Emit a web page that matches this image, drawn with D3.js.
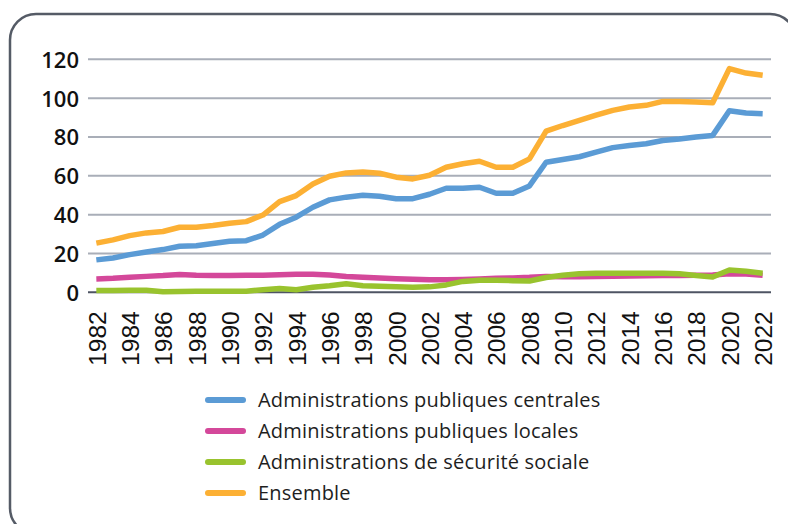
<!DOCTYPE html>
<html>
<head>
<meta charset="utf-8">
<title>Dette par sous-secteur</title>
<script src="https://cdn.jsdelivr.net/npm/d3@7"></script>
<style>
    body { margin: 0; background: #fff; }
    svg { display: block; }
    .grid line { stroke: #a9aeb8; stroke-width: 2px; }
    .ytick text { font: 600 22px "Open Sans", sans-serif; fill: #111; }
    .xtick text { font: 24.5px "Liberation Sans", Arial, sans-serif; fill: #111; }
    .legend text { font: 20px "Open Sans", sans-serif; letter-spacing: 0.2px; fill: #1e1e1e; }
    .serie { fill: none; stroke-width: 5.5px; stroke-linejoin: round; }
</style>
</head>
<body>
<svg width="788" height="524"></svg>
<script>
    const years = d3.range(1982, 2023);
    const yTicks = [0, 20, 40, 60, 80, 100, 120];

    const centrales = [16.7, 17.7, 19.4, 20.8, 22.0, 23.7, 24.0, 25.1, 26.3, 26.6,
        29.5, 35.0, 38.7, 43.8, 47.6, 49.0, 50.0, 49.5, 48.2, 48.2,
        50.5, 53.6, 53.6, 54.1, 51.0, 51.0, 54.8, 67.0, 68.4, 69.8,
        72.2, 74.5, 75.6, 76.5, 78.2, 79.0, 80.0, 80.8, 93.5, 92.3, 92.0];
    const locales = [6.9, 7.2, 7.7, 8.2, 8.6, 9.2, 8.8, 8.6, 8.6, 8.8,
        8.8, 9.1, 9.3, 9.3, 8.9, 8.1, 7.7, 7.4, 7.0, 6.7,
        6.4, 6.4, 6.6, 6.9, 7.2, 7.4, 7.7, 8.2, 8.0, 8.0,
        8.2, 8.3, 8.4, 8.5, 8.6, 8.6, 8.8, 8.9, 9.6, 9.4, 8.8];
    const secu = [0.9, 0.9, 1.0, 1.0, 0.3, 0.4, 0.5, 0.5, 0.5, 0.6,
        1.3, 2.0, 1.3, 2.6, 3.4, 4.4, 3.4, 3.1, 2.8, 2.6,
        2.8, 3.8, 5.6, 6.2, 6.2, 6.0, 5.8, 7.6, 8.8, 9.6,
        9.8, 9.8, 9.8, 9.8, 9.8, 9.5, 8.6, 7.9, 11.5, 10.8, 9.8];
    const ensemble = [25.3, 27.0, 29.2, 30.6, 31.3, 33.5, 33.5, 34.4, 35.6, 36.4,
        39.8, 46.7, 49.8, 55.8, 59.8, 61.5, 61.9, 61.3, 59.3, 58.4,
        60.3, 64.4, 66.2, 67.5, 64.4, 64.4, 68.7, 83.0, 85.9, 88.5,
        91.2, 93.7, 95.4, 96.3, 98.3, 98.3, 98.0, 97.6, 115.2, 112.9, 111.8];

    const series = [
        { name: "Administrations publiques centrales", values: centrales, color: "#5b9bd5" },
        { name: "Administrations publiques locales", values: locales, color: "#d4489a" },
        { name: "Administrations de sécurité sociale", values: secu, color: "#99c32e" },
        { name: "Ensemble", values: ensemble, color: "#fcb034" }
    ];

    const svg = d3.select("svg");

    // cadre arrondi
    svg.append("rect")
        .attr("x", 10).attr("y", 14)
        .attr("width", 786).attr("height", 520)
        .attr("rx", 26)
        .attr("fill", "none")
        .attr("stroke", "#555b66")
        .attr("stroke-width", 2.5);

    const left = 88, right = 771;
    const x = d3.scalePoint().domain(years).range([left, right]).padding(0.5);
    const y = d3.scaleLinear().domain([0, 120]).range([292.3, 59.3]);

    // grille
    const grid = svg.append("g").attr("class", "grid");
    grid.selectAll("line")
        .data(yTicks)
        .enter().append("line")
        .attr("x1", left).attr("x2", right)
        .attr("y1", d => y(d)).attr("y2", d => y(d))
        .style("stroke", d => d === 0 ? "#4e5463" : null);

    // axe Y
    const yAxis = svg.append("g")
        .attr("class", "ytick")
        .attr("transform", `translate(${left - 9},0)`)
        .call(d3.axisLeft(y).tickValues(yTicks).tickSize(0).tickPadding(0));
    yAxis.select(".domain").remove();
    yAxis.selectAll("text").attr("dy", "0.36em");

    // axe X
    const xAxis = svg.append("g")
        .attr("class", "xtick")
        .attr("transform", `translate(0,${y(0)})`)
        .call(d3.axisBottom(x).tickValues(years.filter(d => d % 2 === 0)).tickSize(0));
    xAxis.select(".domain").remove();
    xAxis.selectAll("text")
        .attr("transform", "rotate(-90)")
        .attr("text-anchor", "end")
        .attr("x", -19)
        .attr("y", 0)
        .attr("dy", "0.36em");

    // courbes
    const line = d3.line()
        .x((d, i) => x(years[i]))
        .y(d => y(d));

    svg.selectAll(".serie")
        .data(series)
        .enter().append("path")
        .attr("class", "serie")
        .attr("stroke", d => d.color)
        .attr("d", d => line(d.values));

    // légende
    const legend = svg.append("g").attr("class", "legend")
        .selectAll("g")
        .data(series)
        .enter().append("g")
        .attr("transform", (d, i) => `translate(205,${400 + i * 31})`);

    legend.append("line")
        .attr("x1", 3).attr("x2", 38)
        .attr("stroke", d => d.color)
        .attr("stroke-width", 6)
        .attr("stroke-linecap", "round");

    legend.append("text")
        .attr("x", 53)
        .attr("dy", "0.35em")
        .text(d => d.name);
</script>
</body>
</html>
